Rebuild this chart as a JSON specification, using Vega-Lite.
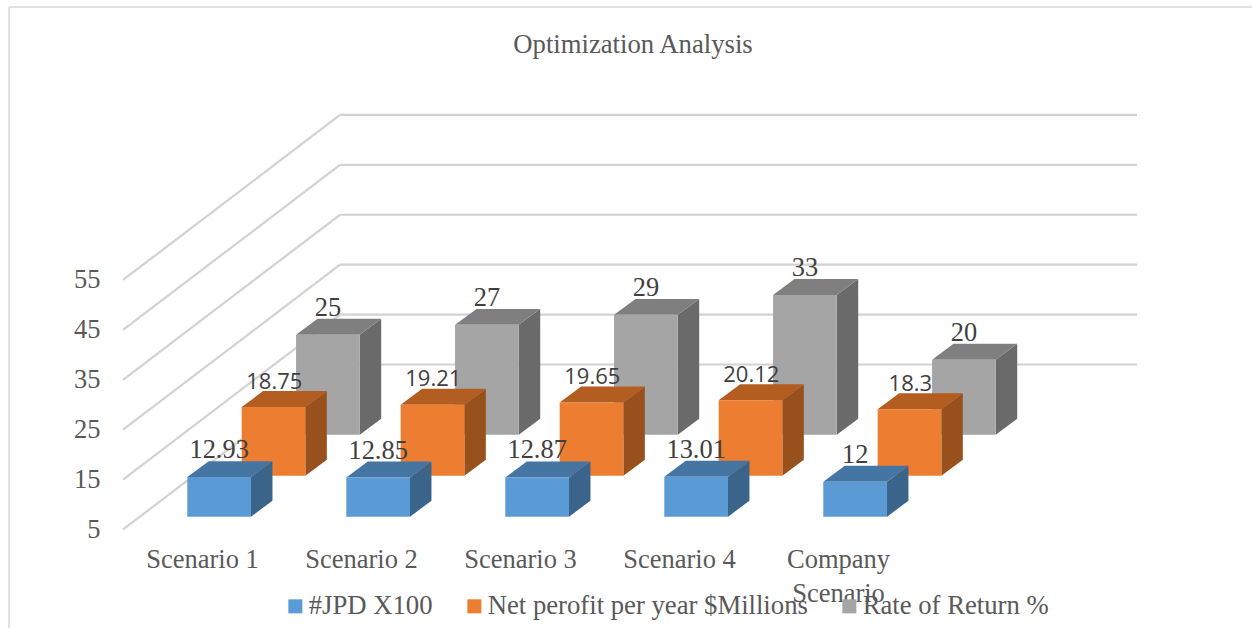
{
"$schema":"https://vega.github.io/schema/vega-lite/v6.json",
"width":1129,"height":441,"autosize":{"type":"none"},
"padding":{"left":123,"top":100,"right":0,"bottom":87},
"background":"white",
"config":{"view":{"stroke":null}},
"title":{"text":"Optimization Analysis","font":"Liberation Serif","fontSize":26.7,"fontWeight":"normal","color":"#595959","anchor":"middle","dx":-54.5,"offset":-52},
"encoding":{
 "x":{"field":"xa","type":"quantitative","stack":null,"scale":{"domain":[-0.4969,6.6038],"nice":false,"zero":false},
  "axis":{"title":null,"values":[0,1,2,3,4],"labelExpr":"datum.value==4 ? ['Company','Scenario'] : 'Scenario '+(datum.value+1)","labelFont":"Liberation Serif","labelFontSize":26.5,"labelColor":"#595959","labelPadding":5,"labelLineHeight":34,"labelOverlap":false,"labelBound":false,"labelFlush":false,"domain":false,"ticks":false,"grid":false}},
 "y":{"field":"ya","type":"quantitative","stack":null,"scale":{"domain":[2.695,91.07],"nice":false,"zero":false},
  "axis":{"title":null,"values":[5,15,25,35,45,55],"labelFont":"Liberation Serif","labelFontSize":26.5,"labelColor":"#595959","labelPadding":23,"labelOverlap":false,"labelBound":false,"labelFlush":false,"domain":false,"ticks":false,"grid":false}}
},
"layer":[
 {"data":{"values":[{"edge":"top"},{"edge":"left"}]},
  "transform":[
   {"calculate":"-1.2138","as":"xa"},
   {"calculate":"datum.edge=='top' ? 7 : -1.2138","as":"xb"},
   {"calculate":"109.7","as":"ya"},
   {"calculate":"datum.edge=='top' ? 109.7 : -14.8","as":"yb"}],
  "mark":{"type":"rule","color":"#d9d9d9","strokeWidth":1.5,"clip":false},
  "encoding":{"x2":{"field":"xb"},"y2":{"field":"yb"}}},
 {"data":{"name":"ticks","values":[{"tick":5},{"tick":15},{"tick":25},{"tick":35},{"tick":45},{"tick":55}]},
  "transform":[
   {"calculate":"-0.4969","as":"xa"},{"calculate":"0.868","as":"xb"},
   {"calculate":"datum.tick","as":"ya"},{"calculate":"datum.tick+33.07","as":"yb"}],
  "mark":{"type":"rule","color":"#d2d2d2","strokeWidth":2.2},
  "encoding":{"x2":{"field":"xb"},"y2":{"field":"yb"}}},
 {"data":{"name":"ticks"},
  "transform":[
   {"calculate":"0.868","as":"xa"},{"calculate":"5.881","as":"xb"},
   {"calculate":"datum.tick+33.07","as":"ya"}],
  "mark":{"type":"rule","color":"#d2d2d2","strokeWidth":2.2},
  "encoding":{"x2":{"field":"xb"}}},
 {"data":{"values":[
   {"scenario":"Scenario 1","series":"#JPD X100","value":12.93},
   {"scenario":"Scenario 2","series":"#JPD X100","value":12.85},
   {"scenario":"Scenario 3","series":"#JPD X100","value":12.87},
   {"scenario":"Scenario 4","series":"#JPD X100","value":13.01},
   {"scenario":"Company Scenario","series":"#JPD X100","value":12},
   {"scenario":"Scenario 1","series":"Net perofit per year $Millions","value":18.75},
   {"scenario":"Scenario 2","series":"Net perofit per year $Millions","value":19.21},
   {"scenario":"Scenario 3","series":"Net perofit per year $Millions","value":19.65},
   {"scenario":"Scenario 4","series":"Net perofit per year $Millions","value":20.12},
   {"scenario":"Company Scenario","series":"Net perofit per year $Millions","value":18.3},
   {"scenario":"Scenario 1","series":"Rate of Return %","value":25},
   {"scenario":"Scenario 2","series":"Rate of Return %","value":27},
   {"scenario":"Scenario 3","series":"Rate of Return %","value":29},
   {"scenario":"Scenario 4","series":"Rate of Return %","value":33},
   {"scenario":"Company Scenario","series":"Rate of Return %","value":20}]},
  "transform":[
   {"calculate":"indexof(['Scenario 1','Scenario 2','Scenario 3','Scenario 4','Company Scenario'],datum.scenario)","as":"i"},
   {"calculate":"indexof(['#JPD X100','Net perofit per year $Millions','Rate of Return %'],datum.series)","as":"s"},
   {"calculate":"datum.i-0.0925+datum.s*0.342","as":"xl"},
   {"calculate":"datum.xl+0.4006","as":"xr"},
   {"calculate":"5+2.57+datum.s*8.22","as":"base"},
   {"calculate":"datum.value+2.57+datum.s*8.22","as":"top"}],
  "encoding":{"color":{"field":"face","type":"nominal",
    "scale":{"domain":["#JPD X100","Net perofit per year $Millions","Rate of Return %","b side","o side","g side","b top","o top","g top"],
             "range":["#5B9BD5","#ED7D31","#A5A5A5","#3A648A","#98501D","#6A6A6A","#4576A3","#B35D20","#7F7F7F"]},
    "legend":{"orient":"none","legendX":159,"legendY":493,"direction":"horizontal","columns":3,"title":null,"values":["#JPD X100","Net perofit per year $Millions","Rate of Return %"],"symbolType":"square","symbolSize":196,"symbolStrokeWidth":0,"labelFont":"Liberation Serif","labelFontSize":26.7,"labelColor":"#595959","labelOffset":0,"columnPadding":28,"gridAlign":"none","padding":0,"labelLimit":500,"symbolOpacity":1}}},
  "layer":[
   {"transform":[{"filter":"datum.s==2"}],"layer":[
    {"transform":[{"calculate":"'g side'","as":"face"},{"calculate":"[0,1]","as":"k"},{"flatten":["k"]},{"calculate":"datum.xr+datum.k*0.135","as":"xa"},{"calculate":"datum.top+datum.k*3.2","as":"ya"},{"calculate":"datum.base+datum.k*3.2","as":"yb"}],
     "mark":{"type":"area","orient":"vertical"},"encoding":{"y2":{"field":"yb"},"detail":{"field":"scenario"}}},
    {"transform":[{"calculate":"'g top'","as":"face"},{"calculate":"[0,1]","as":"k"},{"flatten":["k"]},{"calculate":"datum.xl+datum.k*0.135","as":"xa"},{"calculate":"datum.xr+datum.k*0.135","as":"xb"},{"calculate":"datum.top+datum.k*3.2","as":"ya"}],
     "mark":{"type":"area","orient":"horizontal"},"encoding":{"x2":{"field":"xb"},"detail":{"field":"scenario"}}},
    {"transform":[{"calculate":"datum.series","as":"face"},{"calculate":"datum.xl","as":"xa"},{"calculate":"datum.top","as":"ya"}],
     "mark":{"type":"rect"},"encoding":{"x2":{"field":"xr"},"y2":{"field":"base"}}}]},
   {"transform":[{"filter":"datum.s==1"}],"layer":[
    {"transform":[{"calculate":"'o side'","as":"face"},{"calculate":"[0,1]","as":"k"},{"flatten":["k"]},{"calculate":"datum.xr+datum.k*0.135","as":"xa"},{"calculate":"datum.top+datum.k*3.2","as":"ya"},{"calculate":"datum.base+datum.k*3.2","as":"yb"}],
     "mark":{"type":"area","orient":"vertical"},"encoding":{"y2":{"field":"yb"},"detail":{"field":"scenario"}}},
    {"transform":[{"calculate":"'o top'","as":"face"},{"calculate":"[0,1]","as":"k"},{"flatten":["k"]},{"calculate":"datum.xl+datum.k*0.135","as":"xa"},{"calculate":"datum.xr+datum.k*0.135","as":"xb"},{"calculate":"datum.top+datum.k*3.2","as":"ya"}],
     "mark":{"type":"area","orient":"horizontal"},"encoding":{"x2":{"field":"xb"},"detail":{"field":"scenario"}}},
    {"transform":[{"calculate":"datum.series","as":"face"},{"calculate":"datum.xl","as":"xa"},{"calculate":"datum.top","as":"ya"}],
     "mark":{"type":"rect"},"encoding":{"x2":{"field":"xr"},"y2":{"field":"base"}}}]},
   {"transform":[{"filter":"datum.s==0"}],"layer":[
    {"transform":[{"calculate":"'b side'","as":"face"},{"calculate":"[0,1]","as":"k"},{"flatten":["k"]},{"calculate":"datum.xr+datum.k*0.135","as":"xa"},{"calculate":"datum.top+datum.k*3.2","as":"ya"},{"calculate":"datum.base+datum.k*3.2","as":"yb"}],
     "mark":{"type":"area","orient":"vertical"},"encoding":{"y2":{"field":"yb"},"detail":{"field":"scenario"}}},
    {"transform":[{"calculate":"'b top'","as":"face"},{"calculate":"[0,1]","as":"k"},{"flatten":["k"]},{"calculate":"datum.xl+datum.k*0.135","as":"xa"},{"calculate":"datum.xr+datum.k*0.135","as":"xb"},{"calculate":"datum.top+datum.k*3.2","as":"ya"}],
     "mark":{"type":"area","orient":"horizontal"},"encoding":{"x2":{"field":"xb"},"detail":{"field":"scenario"}}},
    {"transform":[{"calculate":"datum.series","as":"face"},{"calculate":"datum.xl","as":"xa"},{"calculate":"datum.top","as":"ya"}],
     "mark":{"type":"rect"},"encoding":{"x2":{"field":"xr"},"y2":{"field":"base"}}}]},
   {"transform":[{"filter":"datum.s!=1"},{"calculate":"(datum.xl+datum.xr)/2","as":"xa"},{"calculate":"datum.top+5.4","as":"ya"}],
    "mark":{"type":"text","font":"Liberation Serif","fontSize":26.4,"baseline":"middle","align":"center"},
    "encoding":{"text":{"field":"value","type":"quantitative"},"color":{"value":"#404040"}}},
   {"transform":[{"filter":"datum.s==1"},{"calculate":"(datum.xl+datum.xr)/2+0.005","as":"xa"},{"calculate":"datum.top+5.1","as":"ya"}],
    "mark":{"type":"text","font":"Open Sans","fontSize":22,"baseline":"middle","align":"center"},
    "encoding":{"text":{"field":"value","type":"quantitative"},"color":{"value":"#404040"}}}
  ]}
]}
